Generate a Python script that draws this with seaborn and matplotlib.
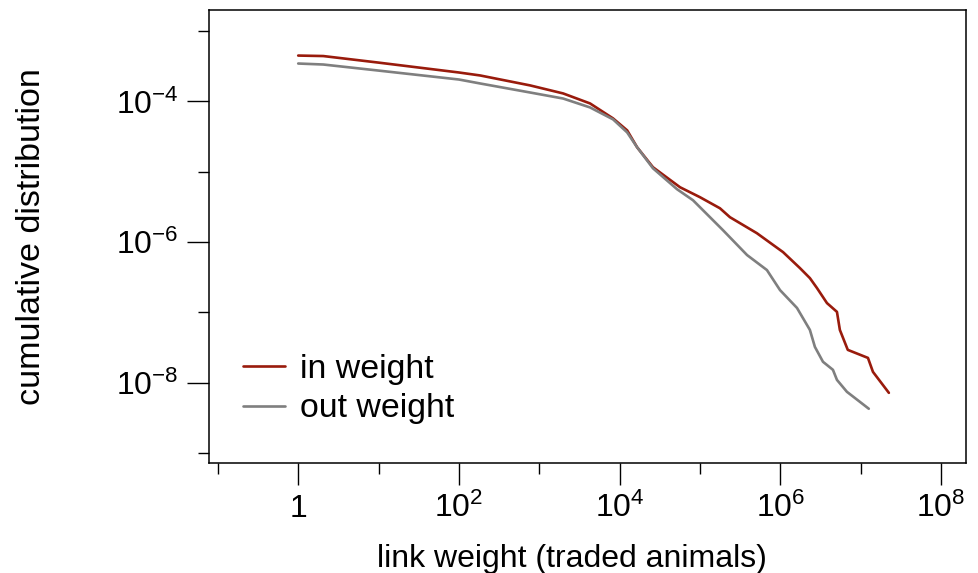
import numpy as np
import pandas as pd
import matplotlib
matplotlib.use("Agg")
import matplotlib.pyplot as plt
from matplotlib.ticker import FixedLocator, FixedFormatter, NullFormatter
import seaborn as sns

# ---- data ----
in_weight_x = [1, 2.05, 9.9, 100, 184, 769, 1.98e3, 4.28e3, 8.28e3, 1.24e4,
               1.65e4, 2.6e4, 5.64e4, 1.0e5, 1.77e5, 2.36e5, 5.1e5, 1.08e6,
               1.75e6, 2.33e6, 2.85e6, 3.8e6, 5.06e6, 5.5e6, 6.9e6, 1.23e7,
               1.42e7, 2.24e7]
in_weight_y = [4.49e-4, 4.42e-4, 3.57e-4, 2.58e-4, 2.34e-4, 1.69e-4, 1.30e-4,
               9.37e-5, 5.74e-5, 3.88e-5, 2.23e-5, 1.16e-5, 6.03e-6, 4.35e-6,
               3.03e-6, 2.26e-6, 1.34e-6, 7.21e-7, 4.28e-7, 3.08e-7, 2.23e-7,
               1.36e-7, 1.02e-7, 5.65e-8, 2.94e-8, 2.26e-8, 1.43e-8, 7.2e-9]
out_weight_x = [1, 2.05, 9.9, 100, 184, 769, 1.98e3, 4.28e3, 8.28e3, 1.24e4,
                1.65e4, 2.6e4, 5.18e4, 8.18e4, 1.93e5, 3.85e5, 6.8e5, 9.9e5,
                1.61e6, 2.33e6, 2.69e6, 3.39e6, 4.51e6, 5.06e6, 6.73e6, 1.26e7]
out_weight_y = [3.46e-4, 3.35e-4, 2.75e-4, 2.05e-4, 1.80e-4, 1.34e-4, 1.10e-4,
                8.22e-5, 5.56e-5, 3.63e-5, 2.23e-5, 1.12e-5, 5.65e-6, 3.94e-6,
                1.48e-6, 6.55e-7, 4.01e-7, 2.08e-7, 1.16e-7, 5.65e-8, 3.24e-8,
                1.99e-8, 1.53e-8, 1.1e-8, 7.45e-9, 4.28e-9]
series_names = ["in weight", "out weight"]
series_colors = ["#991b0c", "#7f7f7f"]

x_major = [1, 1e2, 1e4, 1e6, 1e8]
x_major_labels = ["1", "$10^{2}$", "$10^{4}$", "$10^{6}$", "$10^{8}$"]
x_minor = [1e-1, 1e1, 1e3, 1e5, 1e7]
y_major = [1e-4, 1e-6, 1e-8]
y_major_labels = ["$10^{-4}$", "$10^{-6}$", "$10^{-8}$"]
y_minor = [1e-3, 1e-5, 1e-7, 1e-9]

df = pd.concat([
    pd.DataFrame({"w": in_weight_x, "p": in_weight_y, "series": series_names[0]}),
    pd.DataFrame({"w": out_weight_x, "p": out_weight_y, "series": series_names[1]}),
], ignore_index=True)

sns.set_style("white")
plt.rcParams["font.family"] = ["Liberation Sans", "DejaVu Sans"]
plt.rcParams["mathtext.fontset"] = "custom"
plt.rcParams["mathtext.rm"] = "Liberation Sans"
plt.rcParams["mathtext.it"] = "Liberation Sans"
plt.rcParams["mathtext.bf"] = "Liberation Sans"
plt.rcParams["text.color"] = "black"

FS = 23

fig = plt.figure(figsize=(9.79, 5.73), dpi=100)
ax = fig.add_axes([209 / 979, 1 - 463 / 573, (966 - 209) / 979, (463 - 10) / 573])

sns.lineplot(data=df, x="w", y="p", hue="series", hue_order=series_names,
             palette=series_colors, estimator=None, sort=False, linewidth=1.9,
             ax=ax)

ax.set_xscale("log")
ax.set_yscale("log")
ax.set_xlim(10 ** -1.11, 10 ** 8.31)
ax.set_ylim(10 ** -9.14, 10 ** -2.70)

ax.xaxis.set_major_locator(FixedLocator(x_major))
ax.xaxis.set_major_formatter(FixedFormatter(x_major_labels))
ax.xaxis.set_minor_locator(FixedLocator(x_minor))
ax.xaxis.set_minor_formatter(NullFormatter())
ax.yaxis.set_major_locator(FixedLocator(y_major))
ax.yaxis.set_major_formatter(FixedFormatter(y_major_labels))
ax.yaxis.set_minor_locator(FixedLocator(y_minor))
ax.yaxis.set_minor_formatter(NullFormatter())

ax.tick_params(which="major", direction="out", length=15.8, width=1.0,
               color="black", labelsize=FS, labelcolor="black")
ax.tick_params(which="minor", direction="out", length=7.9, width=1.0,
               color="black")
ax.tick_params(axis="x", which="major", pad=23)
ax.tick_params(axis="y", which="major", pad=6)
ax.tick_params(bottom=True, left=True, top=False, right=False, which="both")
for lab in ax.get_xticklabels():
    lab.set_verticalalignment("baseline")

for sp in ax.spines.values():
    sp.set_visible(True)
    sp.set_color("black")
    sp.set_linewidth(1.1)

ax.set_xlabel("link weight (traded animals)", fontsize=FS, color="black")
ax.xaxis.set_label_coords(0.48, -0.178, transform=ax.transAxes)
ax.xaxis.label.set_verticalalignment("top")
ax.set_ylabel("cumulative distribution", fontsize=24.5, color="black")
ax.yaxis.set_label_coords(-0.214, 0.5, transform=ax.transAxes)

leg = ax.legend(loc="lower left", bbox_to_anchor=(0.045, 0.085), frameon=False,
                fontsize=24.4, handlelength=1.24, handletextpad=0.44,
                labelspacing=0.26, borderaxespad=0, borderpad=0)
for h in leg.get_lines():
    h.set_linewidth(1.9)
for t in leg.get_texts():
    t.set_color("black")

fig.savefig("out.png", dpi=100)
